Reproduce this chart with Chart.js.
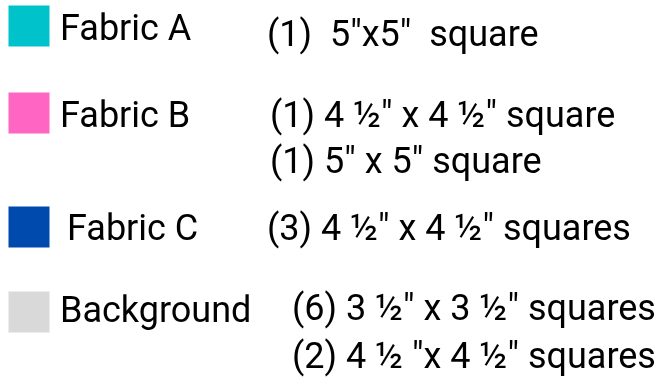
<!DOCTYPE html>
<html>
<head>
<meta charset="utf-8">
<script src="https://cdn.jsdelivr.net/npm/chart.js@4/dist/chart.umd.min.js"></script>
<style>
  html, body { margin: 0; padding: 0; background: #ffffff; }
  #wrap { width: 664px; height: 379px; }
</style>
</head>
<body>
<div id="wrap"><canvas id="chart" width="664" height="379"></canvas></div>
<script>
// data
const fabrics = ['Fabric A', 'Fabric B', 'Fabric C', 'Background'];
const cuts = [
    ['(1)  5"x5"  square'],
    ['(1) 4 \u00BD" x 4 \u00BD" square', '(1) 5" x 5" square'],
    ['(3) 4 \u00BD" x 4 \u00BD" squares'],
    ['(6) 3 \u00BD" x 3 \u00BD" squares', '(2) 4 \u00BD "x 4 \u00BD" squares']
];

// styles / layout (in scale units; x and y scales span the canvas)
const swatchColors = ['#00C2CB', '#FF66C4', '#004AAD', '#D9D9D9'];
const rowY = [26, 113, 227, 312];
const swatchX = 29;
const labelX = [60, 60, 67, 60];
const labelDy = [14, 14, 13, 10];
const cutX = [267, 270, 267, 292];
const cutDy = [[20], [14, 60], [13], [8, 56]];
const fontFamily = 'Roboto, "DejaVu Sans", sans-serif';
const fontSize = 36;

const textPlugin = {
    id: 'fabricText',
    afterDatasetsDraw(chart) {
        const ctx = chart.ctx;
        const xs = chart.scales.x;
        const ys = chart.scales.y;
        ctx.save();
        ctx.fillStyle = '#000000';
        ctx.textBaseline = 'alphabetic';
        ctx.textAlign = 'left';
        ctx.font = fontSize + 'px ' + fontFamily;
        fabrics.forEach((name, i) => {
            ctx.fillText(name, xs.getPixelForValue(labelX[i]), ys.getPixelForValue(rowY[i] + labelDy[i]));
            cuts[i].forEach((line, j) => {
                ctx.fillText(line, xs.getPixelForValue(cutX[i]), ys.getPixelForValue(rowY[i] + cutDy[i][j]));
            });
        });
        ctx.restore();
    }
};

const datasets = fabrics.map((name, i) => ({
    label: name,
    data: [{ x: swatchX, y: rowY[i] }],
    pointStyle: 'rect',
    pointRadius: 29,
    pointHoverRadius: 29,
    pointBorderWidth: 0,
    backgroundColor: swatchColors[i],
    borderColor: swatchColors[i],
    clip: false
}));

new Chart(document.getElementById('chart'), {
    type: 'scatter',
    data: { datasets: datasets },
    options: {
        responsive: false,
        animation: false,
        events: [],
        layout: { padding: 0, autoPadding: false },
        plugins: {
            legend: { display: false },
            tooltip: { enabled: false }
        },
        scales: {
            x: { type: 'linear', min: 0, max: 664, display: false },
            y: { type: 'linear', min: 0, max: 379, reverse: true, display: false }
        }
    },
    plugins: [textPlugin]
});
</script>
</body>
</html>
